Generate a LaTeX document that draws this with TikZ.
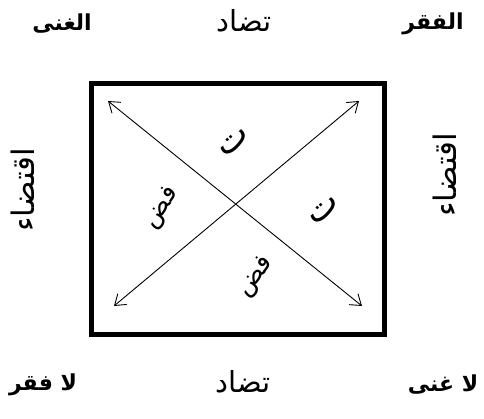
\documentclass[tikz,border=0pt]{standalone}
\usepackage{fontspec}
\TeXXeTstate=1
\newfontfamily\arabicfont[Script=Arabic]{DejaVu Sans}
\usetikzlibrary{arrows.meta}
\tikzset{
  corner/.style={font=\arabicfont\bfseries\fontsize{22}{26}\selectfont, inner sep=0pt},
  relation/.style={font=\arabicfont\fontsize{29}{32}\selectfont, inner sep=0pt},
  side/.style={font=\arabicfont\fontsize{31}{34}\selectfont, inner sep=0pt, rotate=90},
  inner/.style={font=\arabicfont\fontsize{36}{38}\selectfont, inner sep=0pt},
  innerb/.style={font=\arabicfont\fontsize{26}{28}\selectfont, inner sep=0pt},
  frame/.style={line width=5pt},
  diag/.style={line width=0.9pt, {Straight Barb[length=10pt,width=14pt]}-{Straight Barb[length=10pt,width=14pt]}}
}
\begin{document}
\begin{tikzpicture}[x=1pt,y=-1pt]
\useasboundingbox (0,0) rectangle (484,419);
\draw[frame] (91,83.5) rectangle (384.5,334);
\coordinate (tl) at (108,101);
\coordinate (tr) at (359,101);
\coordinate (bl) at (114,306);
\coordinate (br) at (362,306);
\draw[diag] (tl) -- (br);
\draw[diag] (bl) -- (tr);
\node[corner] (ghina) at (62,24) {\beginR الغنى\endR};
\node[relation] (tadadTop) at (244,21) {\beginR تضاد\endR};
\node[corner] (faqr) at (433,24) {\beginR الفقر\endR};
\node[corner] (lafaqr) at (43,385) {\beginR لا فقر\endR};
\node[relation] (tadadBot) at (243,382) {\beginR تضاد\endR};
\node[corner] (laghina) at (443,385) {\beginR لا غنى\endR};
\node[side] (iqtL) at (23,190) {\beginR اقتضاء\endR};
\node[side] (iqtR) at (445,175) {\beginR اقتضاء\endR};
\node[inner, rotate=40] (t1) at (234,142) {\beginR ت\endR};
\node[inner, rotate=40] (t2) at (324,210) {\beginR ت\endR};
\node[innerb, rotate=55] (f1) at (162,208) {\beginR فض\endR};
\node[innerb, rotate=52] (f2) at (256,277) {\beginR فض\endR};
\end{tikzpicture}
\end{document}
